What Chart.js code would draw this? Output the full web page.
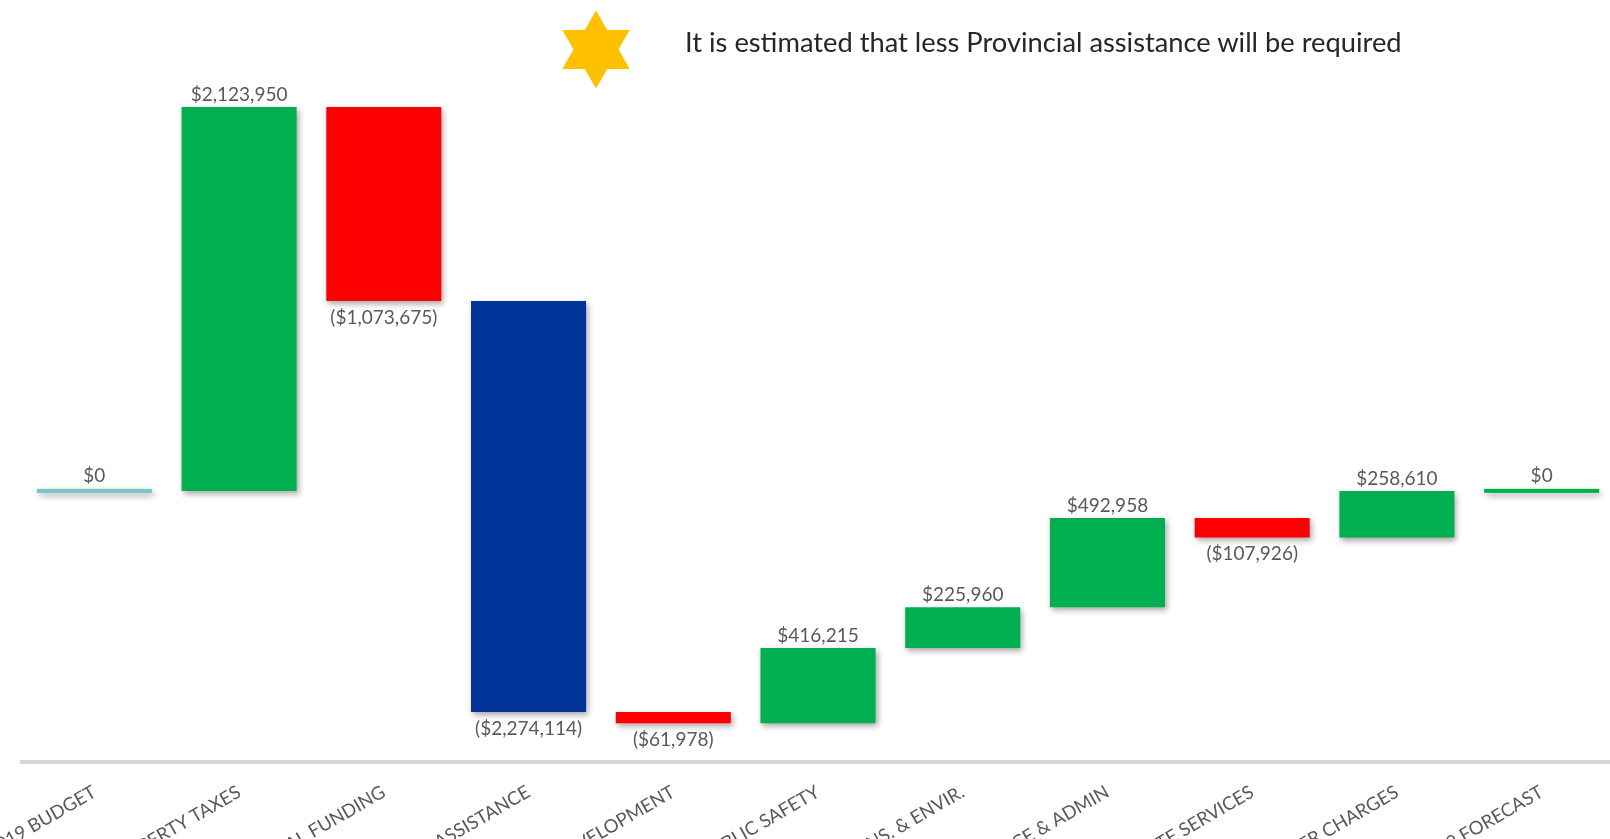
<!DOCTYPE html>
<html>
<head>
<meta charset="utf-8">
<script src="https://cdn.jsdelivr.net/npm/chart.js@4.4.1/dist/chart.umd.min.js"></script>
<style>
html,body{margin:0;padding:0;background:#fff;overflow:hidden;}
#wrap{position:relative;width:1610px;height:839px;overflow:hidden;background:#fff;}
#c{position:absolute;left:0;top:0;}
#note{position:absolute;left:685px;top:24px;font-family:Lato,sans-serif;font-size:27.3px;color:#262626;white-space:nowrap;line-height:36px;}
#star{position:absolute;left:559.5px;top:10px;}
</style>
</head>
<body>
<div id="wrap">
<canvas id="c" width="1614" height="900"></canvas>
<svg id="star" width="72" height="80" viewBox="0 0 72 80">
<polygon fill="#FFC000" points="36,0.5 47.26,20 69.77,20 58.52,39.5 69.77,59 47.26,59 36,78.5 24.74,59 2.23,59 13.48,39.5 2.23,20 24.74,20"/>
</svg>
<div id="note">It is estimated that less Provincial assistance will be required</div>
</div>
<script>
const categories = ['2019 BUDGET','PROPERTY TAXES','FEDERAL FUNDING','PROVINCIAL ASSISTANCE','ECONOMIC DEVELOPMENT','PUBLIC SAFETY','TRANS. & ENVIR.','FINANCE & ADMIN','CORPORATE SERVICES','OTHER CHARGES','2019 FORECAST'];
const changes = [0, 2123950, -1073675, -2274114, -61978, 416215, 225960, 492958, -107926, 258610, 0];
const barColors = ['#78C4C9','#00B050','#FF0000','#003399','#FF0000','#00B050','#00B050','#00B050','#FF0000','#00B050','#00B050'];
const yRange = [-1500000, 2500000];

let running = 0;
const ranges = changes.map(v => { const s = running; running += v; return [s, running]; });

function fmt(v){
  if (v === 0) return '$0';
  const s = '$' + Math.abs(v).toLocaleString('en-US');
  return v < 0 ? '(' + s + ')' : s;
}

const waterfallDeco = {
  id: 'wf',
  beforeDatasetsDraw(chart){
    const ctx = chart.ctx;
    ctx.save();
    ctx.shadowColor = 'rgba(0,0,0,0.35)';
    ctx.shadowBlur = 6;
    ctx.shadowOffsetX = 2;
    ctx.shadowOffsetY = 3;
  },
  afterDatasetsDraw(chart){
    const ctx = chart.ctx;
    const meta = chart.getDatasetMeta(0);
    meta.data.forEach((el, i) => {
      if (changes[i] === 0) {
        ctx.fillStyle = barColors[i];
        ctx.fillRect(el.x - el.width/2, el.y - 2, el.width, 4);
      }
    });
    ctx.restore();
    ctx.save();
    ctx.font = '19px Lato';
    ctx.fillStyle = '#595959';
    ctx.textAlign = 'center';
    meta.data.forEach((el, i) => {
      const v = changes[i];
      const top = Math.min(el.y, el.base), bot = Math.max(el.y, el.base);
      if (v < 0) { ctx.textBaseline = 'top'; ctx.fillText(fmt(v), el.x, bot + 7); }
      else { ctx.textBaseline = 'bottom'; ctx.fillText(fmt(v), el.x, top - (v === 0 ? 6 : 3)); }
    });
    ctx.restore();
  }
};

new Chart(document.getElementById('c'), {
  type: 'bar',
  data: {
    labels: categories,
    datasets: [{
      data: ranges,
      backgroundColor: barColors,
      borderWidth: 0,
      categoryPercentage: 1,
      barPercentage: 0.795
    }]
  },
  options: {
    responsive: false,
    animation: false,
    devicePixelRatio: 1,
    layout: { padding: { top: 39, left: 22, right: 0, bottom: 0 } },
    plugins: { legend: { display: false }, tooltip: { enabled: false } },
    scales: {
      x: {
        offset: true,
        grid: { display: false, drawTicks: false },
        border: { display: true, color: '#d6d6d6', width: 4 },
        ticks: { autoSkip: false, maxRotation: 30, minRotation: 30, color: '#595959', font: { family: 'Lato', size: 18.5 }, padding: 19, labelOffset: 0 },
        afterFit(s){ s.paddingLeft = 0; s.paddingRight = 0; s.height = 138; }
      },
      y: { display: false, min: yRange[0], max: yRange[1] }
    }
  },
  plugins: [waterfallDeco]
});
</script>
</body>
</html>
